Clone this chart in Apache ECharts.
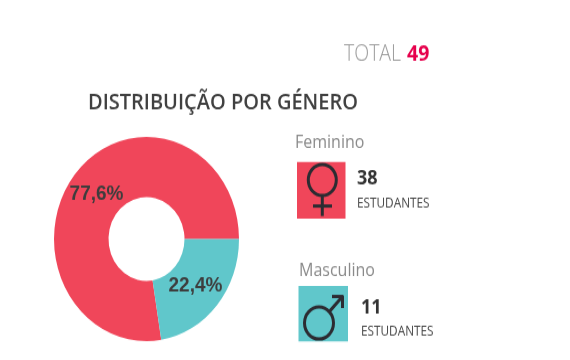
<!DOCTYPE html>
<html>
<head>
<meta charset="utf-8">
<style>
html,body{margin:0;padding:0;background:#fff;height:360px}
/* reference is stretched vertically, so the whole chart is too */
#chart{width:570px;height:326px;transform:scaleY(1.104);transform-origin:0 0}
</style>
<script src="https://cdn.jsdelivr.net/npm/echarts@6/dist/echarts.min.js"></script>
</head>
<body>
<div id="chart"></div>
<script>
var categories = ['Feminino', 'Masculino'];
var values = [38, 11];
var total = [49];
var colors = ['#f0465a', '#60c7cb'];

var stretch = 1.104;
var FONT = '"Open Sans", sans-serif';
var DARK = '#2c2c32';

function y(v){ return v / stretch; }

function txt(x, top, text, size, color, weight, family){
    return {
        type: 'text',
        x: x,
        y: y(top),
        style: {
            text: text,
            fontSize: size,
            fontFamily: family || FONT,
            fontWeight: weight || 'normal',
            fill: color,
            textVerticalAlign: 'middle'
        }
    };
}
function line(x1, y1, x2, y2){
    return {
        type: 'line',
        shape: {x1: x1, y1: y(y1), x2: x2, y2: y(y2)},
        style: {stroke: DARK, lineWidth: 3}
    };
}
function ring(cx, cy, r){
    return {
        type: 'circle',
        shape: {cx: cx, cy: y(cy), r: r},
        style: {fill: 'none', stroke: DARK, lineWidth: 3}
    };
}
function box(x, top, w, bottom, color){
    return {
        type: 'rect',
        shape: {x: x, y: y(top), width: w, height: y(bottom) - y(top)},
        style: {fill: color}
    };
}

var labelOffsets = [[2, 4], [-3, -2]];

var chart = echarts.init(document.getElementById('chart'));
var option = {
    animation: false,
    title: {
        text: 'DISTRIBUIÇÃO POR GÉNERO',
        left: 83,
        top: y(97) - 11,
        textStyle: {fontFamily: FONT, fontSize: 20, fontWeight: 600, color: '#404040', lineHeight: 22}
    },
    series: [{
        type: 'pie',
        center: [146.5, y(239)],
        radius: [38, 92.5],
        startAngle: 0,
        clockwise: false,
        silent: true,
        percentPrecision: 1,
        data: categories.map(function(c, i){
            return {
                name: c,
                value: values[i],
                itemStyle: {color: colors[i]},
                label: {offset: labelOffsets[i]}
            };
        }),
        label: {
            position: 'inside',
            fontFamily: '"Liberation Sans", Arial, sans-serif',
            fontWeight: 'bold',
            fontSize: 19,
            color: '#3d3d3d',
            formatter: function(p){ return p.percent.toFixed(1).replace('.', ',') + '%'; }
        },
        labelLine: {show: false}
    }],
    graphic: [
        txt(344, 55, 'TOTAL', 19.5, '#9a9a9a', 300),
        txt(407, 55, String(total[0]), 19.5, '#e6004c', 'bold'),

        txt(295, 143, categories[0], 16, '#8a8a8a'),
        box(297, 162, 48.5, 218.5, colors[0]),
        ring(322.3, 180, 14),
        line(322.3, 195, 322.3, 216),
        line(313, 206, 332, 206),
        txt(357, 179, String(values[0]), 18, '#333333', 'bold'),
        txt(357, 204, 'ESTUDANTES', 11.8, '#444444'),

        txt(299, 271, categories[1], 16, '#8a8a8a'),
        box(298.5, 286, 49.5, 341.5, colors[1]),
        ring(319, 323, 14.5),
        line(329, 312, 342, 297),
        line(332, 296.5, 343.5, 296.5),
        line(342.5, 296, 342.5, 308),
        txt(361, 308, String(values[1]), 18, '#333333', 'bold'),
        txt(361, 332, 'ESTUDANTES', 11.8, '#444444')
    ]
};
chart.setOption(option);
</script>
</body>
</html>
